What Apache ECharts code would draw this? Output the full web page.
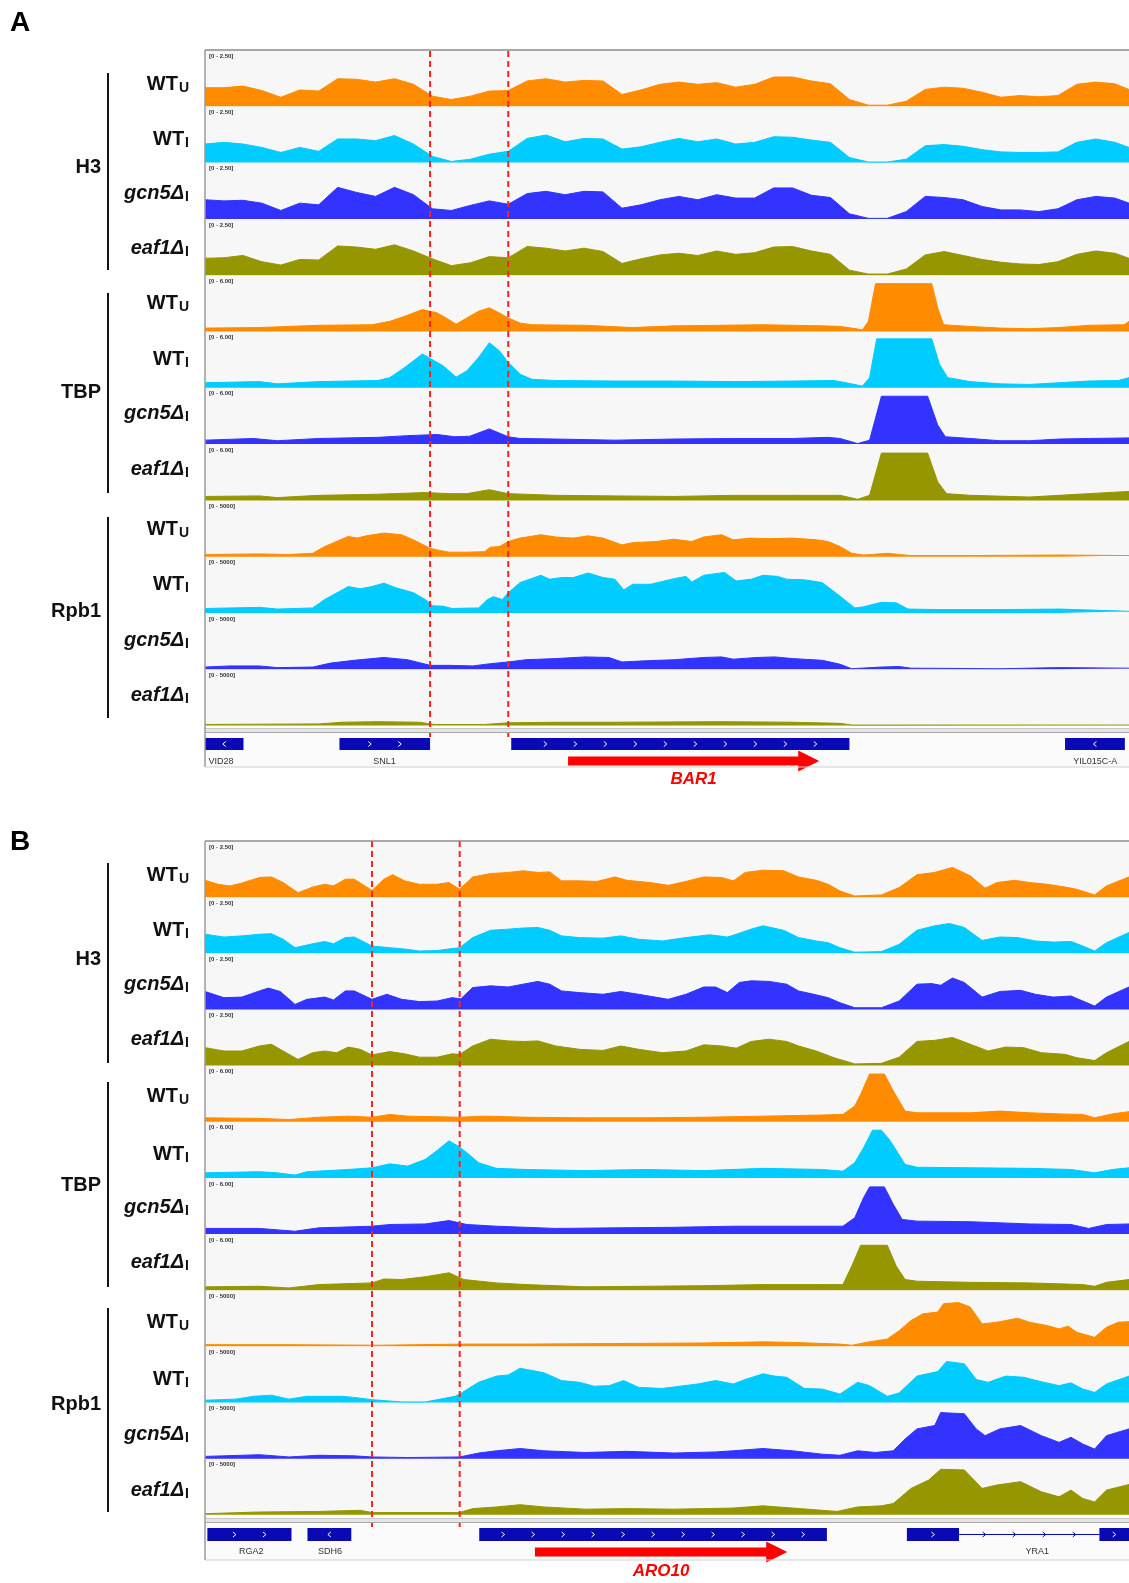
<!DOCTYPE html>
<html><head><meta charset="utf-8">
<script src="https://cdn.jsdelivr.net/npm/echarts@6/dist/echarts.min.js"></script>
<style>html,body{margin:0;padding:0;background:#fff}#c{width:1129px;height:1583px}</style>
</head><body><div id="c"></div>
<script>
// ---------------- DATA (signal as % of each track's display range; x = position along the locus) ----------------
const STRAINS = [
  {main:'WT', sub:'U', italic:false},
  {main:'WT', sub:'I', italic:false},
  {main:'gcn5\u0394', sub:'I', italic:true},
  {main:'eaf1\u0394', sub:'I', italic:true}
];
const GROUPS = ['H3','TBP','Rpb1'];
const RANGE_LABELS = ['[0 - 2.50]','[0 - 6.00]','[0 - 5000]'];
const COLORS = ['#ff8c00','#00ccff','#3333ff','#969600'];

// Panel A (BAR1 locus) – H3 sampled on a regular grid of positions
const A_H3_SAMPLE_X = Array.from({length:50},(_, i) => i < 49 ? 8 + 32*i : 1568);
const A_H3_WTU  = [33,33,36,28,16,29,27,49,48,43,49,39,18,12,18,27,28,45,49,43,46,45,21,29,39,43,39,42,34,39,52,52,45,40,12,2,2,9,30,34,32,25,16,19,17,19,39,43,40,30];
const A_H3_WTI  = [33,36,33,27,18,27,20,42,42,39,48,33,11,2,6,15,20,43,49,37,43,42,24,28,36,43,37,42,33,36,46,45,40,36,9,1,1,6,30,32,29,23,19,18,18,19,36,42,36,27];
const A_H3_GCN5 = [34,32,33,28,15,28,25,56,47,40,56,43,18,15,24,32,26,45,49,43,49,48,19,25,34,40,34,43,37,37,55,55,42,38,9,1,1,13,40,38,34,22,16,16,13,18,34,40,37,28];
const A_H3_EAF1 = [30,31,35,24,18,28,27,52,50,46,54,43,29,17,22,33,31,51,48,43,48,42,21,29,36,39,35,43,37,40,50,51,43,37,9,2,2,11,36,42,35,28,23,20,19,24,37,43,39,30];

const A_TBP_WTU  = [[8,6],[100,7],[200,11],[290,12],[320,18],[345,27],[375,39],[400,33],[420,21],[432,13],[450,24],[470,36],[488,42],[505,33],[520,24],[540,15],[560,12],[650,11],[730,7],[800,10],[950,12],[1050,10],[1080,9],[1100,6],[1118,3],[1128,18],[1140,85],[1235,85],[1245,42],[1255,12],[1300,9],[1350,6],[1400,5],[1450,7],[1500,11],[1560,12],[1568,18]];
const A_TBP_WTI  = [[8,9],[100,11],[130,7],[200,11],[300,13],[320,18],[345,36],[375,60],[395,48],[410,39],[432,19],[450,30],[470,54],[488,80],[505,66],[520,45],[540,24],[560,15],[600,13],[700,12],[800,12],[900,11],[1000,12],[1070,13],[1090,9],[1118,3],[1130,18],[1142,87],[1235,87],[1248,42],[1262,18],[1300,11],[1350,7],[1400,6],[1450,9],[1500,12],[1550,13],[1568,18]];
const A_TBP_GCN5 = [[8,7],[90,10],[130,6],[200,10],[300,12],[350,15],[400,17],[430,13],[455,14],[488,27],[520,13],[540,10],[600,9],[700,7],[800,9],[900,10],[1000,10],[1060,12],[1080,10],[1110,1],[1130,7],[1150,85],[1228,85],[1245,34],[1258,13],[1300,10],[1350,6],[1400,6],[1450,9],[1500,10],[1568,11]];
const A_TBP_EAF1 = [[8,7],[100,8],[130,5],[200,9],[300,11],[380,14],[420,12],[450,12],[488,19],[520,12],[600,9],[700,8],[800,7],[900,9],[1000,9],[1080,9],[1110,2],[1130,9],[1150,84],[1228,84],[1245,33],[1260,12],[1300,9],[1400,6],[1450,9],[1500,12],[1568,16]];

const A_RPB1_WTU  = [[8,4],[100,5],[150,4],[190,6],[210,18],[250,36],[265,33],[280,37],[310,42],[340,39],[360,30],[388,15],[400,12],[420,8],[450,8],[480,9],[490,17],[505,18],[520,27],[540,33],[575,39],[600,35],[630,33],[655,37],[680,33],[712,21],[730,25],[770,27],[800,31],[830,27],[850,35],[880,39],[900,30],[930,33],[960,32],[1000,33],[1040,30],[1060,27],[1080,18],[1100,6],[1120,3],[1160,6],[1180,4],[1200,2],[1300,2],[1450,3],[1568,2]];
const A_RPB1_WTI  = [[8,8],[100,10],[130,7],[190,9],[210,24],[250,47],[270,43],[290,47],[310,53],[330,45],[360,36],[380,24],[392,13],[410,12],[425,8],[470,9],[485,24],[495,29],[510,24],[520,36],[540,54],[575,67],[590,60],[610,63],[630,63],[655,71],[680,63],[700,60],[715,41],[730,51],[760,51],[800,61],[820,65],[830,55],[850,67],[885,72],[905,57],[930,60],[950,67],[975,65],[990,60],[1020,59],[1050,54],[1080,30],[1105,9],[1120,11],[1150,19],[1175,18],[1195,7],[1250,6],[1350,6],[1450,7],[1568,3]];
const A_RPB1_GCN5 = [[8,4],[50,6],[100,6],[130,3],[190,4],[220,11],[260,16],[310,21],[350,17],[388,7],[420,7],[460,6],[490,10],[520,13],[550,17],[600,19],[650,22],[690,21],[712,13],[750,15],[800,17],[850,21],[880,22],[900,18],[940,21],[970,22],[1000,19],[1050,16],[1080,9],[1100,1],[1150,4],[1180,5],[1200,2],[1350,1],[1450,3],[1568,2]];
const A_RPB1_EAF1 = [[8,2],[200,3],[240,6],[300,7],[370,6],[395,2],[480,2],[520,5],[600,6],[700,6],[880,7],[1000,6],[1080,4],[1100,1],[1568,1]];

// Panel B (ARO10 locus)
const B_H3_WTU  = [[8,30],[30,23],[50,20],[70,25],[100,35],[120,36],[140,26],[165,8],[190,18],[210,23],[225,20],[245,32],[260,32],[290,12],[310,32],[325,40],[345,29],[370,23],[400,23],[420,26],[438,14],[460,36],[490,42],[520,44],[545,47],[570,44],[590,45],[610,29],[640,29],[670,28],[700,36],[720,30],[760,26],[790,21],[820,28],[850,36],[880,35],[900,29],[920,44],[950,48],[985,47],[1010,36],[1040,30],[1060,23],[1080,11],[1105,2],[1150,4],[1180,17],[1210,40],[1240,44],[1270,53],[1300,38],[1325,16],[1345,26],[1375,30],[1400,26],[1430,23],[1460,18],[1480,14],[1510,4],[1530,20],[1568,36]];
const B_H3_WTI  = [[8,34],[40,29],[70,31],[100,34],[120,35],[140,25],[160,10],[190,17],[210,21],[225,17],[245,28],[260,29],[290,13],[320,10],[350,7],[370,4],[400,5],[430,9],[438,10],[460,28],[490,41],[520,43],[545,45],[570,46],[590,41],[610,31],[640,28],[680,27],[710,31],[740,25],[780,22],[820,28],[860,33],[890,29],[905,34],[930,43],[950,49],[985,41],[1010,28],[1040,22],[1060,19],[1080,10],[1105,2],[1150,3],[1180,16],[1210,41],[1240,49],[1265,53],[1290,46],[1320,23],[1350,29],[1380,28],[1410,22],[1440,20],[1470,21],[1490,13],[1510,4],[1530,19],[1568,37]];
const B_H3_GCN5 = [[8,32],[40,21],[70,22],[100,33],[115,38],[135,32],[160,9],[180,18],[210,22],[225,17],[245,33],[260,33],[290,18],[315,27],[340,18],[370,14],[400,15],[425,21],[440,19],[460,39],[490,42],[520,40],[545,45],[570,50],[590,45],[610,33],[640,30],[680,27],[710,32],[740,27],[790,18],[820,27],[850,40],[870,40],[890,30],[910,48],[930,51],[960,50],[990,45],[1010,33],[1040,26],[1060,21],[1080,12],[1105,3],[1150,3],[1180,15],[1210,45],[1235,46],[1250,43],[1270,56],[1290,48],[1320,22],[1350,32],[1385,34],[1410,27],[1440,22],[1470,24],[1490,15],[1510,6],[1530,22],[1568,40]];
const B_H3_EAF1 = [[8,32],[40,26],[70,26],[100,35],[120,38],[140,26],[165,11],[190,23],[210,26],[230,23],[250,33],[270,29],[290,19],[320,25],[345,21],[370,15],[400,15],[425,21],[438,20],[460,35],[490,47],[520,44],[545,43],[570,44],[600,35],[640,29],[680,27],[710,35],[740,29],[780,23],[820,26],[850,37],[880,35],[905,31],[930,43],[960,47],[990,43],[1010,35],[1040,26],[1070,14],[1105,3],[1150,4],[1180,15],[1210,43],[1240,45],[1270,50],[1300,38],[1330,26],[1360,33],[1390,32],[1420,23],[1460,20],[1480,14],[1510,9],[1530,23],[1568,43]];

const B_TBP_WTU  = [[8,7],[100,6],[150,4],[200,8],[250,10],[290,8],[320,13],[350,10],[400,9],[438,8],[480,10],[550,8],[650,7],[750,7],[850,8],[950,10],[1050,12],[1085,13],[1105,28],[1115,49],[1130,85],[1155,85],[1170,55],[1190,19],[1210,16],[1300,16],[1350,19],[1400,16],[1450,14],[1490,13],[1510,7],[1540,14],[1568,18]];
const B_TBP_WTI  = [[8,9],[100,11],[130,9],[160,5],[180,11],[250,15],[290,18],[320,25],[350,21],[380,33],[400,49],[420,66],[435,57],[450,45],[470,27],[500,17],[550,15],[650,13],[750,15],[850,13],[950,17],[1050,15],[1085,12],[1105,27],[1120,54],[1135,85],[1150,85],[1165,66],[1190,24],[1210,19],[1300,18],[1400,17],[1470,15],[1510,9],[1540,15],[1568,18]];
const B_TBP_GCN5 = [[8,10],[100,10],[160,5],[200,11],[290,14],[320,17],[380,18],[420,24],[450,17],[500,14],[600,10],[700,11],[800,12],[900,14],[1000,14],[1085,14],[1105,29],[1120,65],[1130,84],[1155,84],[1170,53],[1185,26],[1210,23],[1300,22],[1400,18],[1470,17],[1500,10],[1530,17],[1568,18]];
const B_TBP_EAF1 = [[8,6],[100,7],[150,4],[200,10],[290,13],[310,20],[340,19],[380,24],[420,31],[445,19],[500,13],[550,10],[650,6],[750,7],[850,8],[950,10],[1050,10],[1085,10],[1100,43],[1115,80],[1160,80],[1175,43],[1190,19],[1210,16],[1300,14],[1400,13],[1490,10],[1510,7],[1530,14],[1568,19]];

const B_RPB1_WTU  = [[8,3],[150,3],[300,2],[440,4],[550,4],[700,5],[850,6],[950,8],[1000,7],[1080,4],[1100,2],[1130,8],[1160,13],[1180,28],[1200,46],[1220,58],[1245,61],[1255,76],[1280,78],[1300,70],[1320,40],[1345,43],[1380,50],[1400,43],[1430,37],[1450,31],[1465,36],[1480,25],[1510,16],[1530,34],[1550,43],[1568,44]];
const B_RPB1_WTI  = [[8,4],[60,6],[90,11],[120,13],[150,6],[180,11],[240,11],[260,9],[290,5],[340,1],[380,1],[410,7],[430,11],[438,15],[470,36],[500,47],[520,49],[540,61],[560,57],[580,53],[610,39],[640,36],[665,29],[690,30],[715,39],[740,27],[780,25],[810,29],[840,33],[870,39],[900,33],[920,41],[950,51],[970,47],[990,45],[1020,25],[1050,24],[1080,15],[1110,36],[1130,30],[1160,11],[1180,17],[1210,47],[1245,55],[1260,73],[1290,69],[1310,41],[1330,36],[1360,47],[1390,45],[1420,37],[1450,30],[1470,35],[1490,24],[1510,18],[1530,33],[1568,47]];
const B_RPB1_GCN5 = [[8,4],[100,7],[150,3],[200,6],[260,5],[290,3],[350,2],[438,3],[470,10],[500,14],[540,18],[580,14],[650,11],[720,13],[800,10],[870,12],[900,14],[950,18],[1000,14],[1050,8],[1080,6],[1110,14],[1140,11],[1170,14],[1190,35],[1210,53],[1240,59],[1250,82],[1290,80],[1310,53],[1325,41],[1350,53],[1385,59],[1420,41],[1450,29],[1470,38],[1490,26],[1510,17],[1530,41],[1568,53]];
const B_RPB1_EAF1 = [[8,2],[100,5],[200,6],[270,8],[290,4],[438,4],[460,11],[500,14],[540,18],[580,14],[650,10],[720,11],[800,10],[850,11],[900,12],[950,16],[1000,12],[1075,6],[1110,14],[1150,16],[1170,20],[1200,47],[1230,62],[1250,81],[1290,80],[1320,47],[1345,53],[1385,59],[1420,41],[1450,32],[1470,44],[1490,29],[1510,23],[1530,44],[1568,54]];

// Gene annotations (positions in same locus units)
const GENES_A = [
  {name:'VID28', exons:[[8,73]], strand:-1, labelAt:35},
  {name:'SNL1', exons:[[235,388]], strand:1, labelAt:311},
  {name:'', exons:[[525,1096]], strand:1, labelAt:810},
  {name:'YIL015C-A', exons:[[1460,1561]], strand:-1, labelAt:1511}
];
const GENES_B = [
  {name:'RGA2', exons:[[12,154]], strand:1, labelAt:86},
  {name:'SDH6', exons:[[181,255]], strand:-1, labelAt:219},
  {name:'', exons:[[471,1058]], strand:1, labelAt:765},
  {name:'YRA1', exons:[[1193,1281],[1518,1575]], strand:1, labelAt:1413}
];
const ARROW_A = [621, 1045], ARROW_LABEL_A = 'BAR1';
const ARROW_B = [565, 991],  ARROW_LABEL_B = 'ARO10';
const DASH_A = [388, 520];
const DASH_B = [290, 438];

// ---------------- LAYOUT ----------------
const toPairs = (xs, ys) => ys.map((v, i) => [xs[i], v]);
const PANELS = [
  {letter:'A', letterY:23, top:50, step:56.3, dashEnd:737, dashes:DASH_A,
   tracks:[toPairs(A_H3_SAMPLE_X,A_H3_WTU),toPairs(A_H3_SAMPLE_X,A_H3_WTI),toPairs(A_H3_SAMPLE_X,A_H3_GCN5),toPairs(A_H3_SAMPLE_X,A_H3_EAF1),
           A_TBP_WTU,A_TBP_WTI,A_TBP_GCN5,A_TBP_EAF1,A_RPB1_WTU,A_RPB1_WTI,A_RPB1_GCN5,A_RPB1_EAF1],
   labelY:[84.5,139,193.5,248,303.5,359,413.5,469,529.5,584,640.5,695],
   groupY:[167,392,611], brackets:[[73,270],[293,493],[517,718]],
   sepY:728, geneTop:733, geneBottom:767, boxOff:5, boxH:12, gLabelOff:29, arrowOff:28, arrowLabelY:779,
   genes:GENES_A, arrow:ARROW_A, arrowLabel:ARROW_LABEL_A},
  {letter:'B', letterY:842, top:841, step:56.15, dashEnd:1527, dashes:DASH_B,
   tracks:[B_H3_WTU,B_H3_WTI,B_H3_GCN5,B_H3_EAF1,B_TBP_WTU,B_TBP_WTI,B_TBP_GCN5,B_TBP_EAF1,B_RPB1_WTU,B_RPB1_WTI,B_RPB1_GCN5,B_RPB1_EAF1],
   labelY:[875.5,930,984.5,1039,1096.5,1154,1207.5,1262,1322,1379,1434,1490.5],
   groupY:[959,1185,1404], brackets:[[863,1063],[1082,1287],[1308,1512]],
   sepY:1518, geneTop:1523, geneBottom:1560, boxOff:5, boxH:13, gLabelOff:29, arrowOff:29, arrowLabelY:1571,
   genes:GENES_B, arrow:ARROW_B, arrowLabel:ARROW_LABEL_B}
];
const LEFT = 205, XMIN = 8, XMAX = 1568;
const FONT = "'Liberation Sans', Arial, sans-serif";
const GENE_COLOR = '#0a0ab4';

const grids = [], xAxes = [], yAxes = [], series = [], graphics = [];
function addGrid(g, ymax) {
  const i = grids.length;
  grids.push(g);
  xAxes.push({type:'value', gridIndex:i, min:XMIN, max:XMAX, show:false});
  yAxes.push({type:'value', gridIndex:i, min:0, max:ymax, show:false});
  return i;
}
const ctx = document.createElement('canvas').getContext('2d');
function textW(font, t) { ctx.font = font; return ctx.measureText(t).width; }

function chevron(x, yc, dir, color) {
  const d = dir > 0 ? 1 : -1;
  return {type:'polyline', shape:{points:[[x - 1.5*d, yc - 2.5],[x + 1.5*d, yc],[x - 1.5*d, yc + 2.5]]},
          style:{stroke:color, lineWidth:1, fill:null}};
}
function chevronXs(xa, xb) {
  const w = xb - xa;
  const n = Math.max(1, Math.round(w / 30) - 1);
  const start = xa + (w - (n - 1) * 30) / 2;
  return Array.from({length:n}, (_, i) => start + 30 * i);
}

PANELS.forEach(P => {
  // tracks
  P.tracks.forEach((data, k) => {
    const gi = addGrid({left:LEFT, right:0, top:P.top + P.step * k, height:P.step, show:true,
                        backgroundColor:'#f7f7f7', borderWidth:0}, 100);
    const color = COLORS[k % 4];
    series.push({type:'line', xAxisIndex:gi, yAxisIndex:gi, data, symbol:'none', silent:true, z:2,
                 lineStyle:{width:1, color}, areaStyle:{color, opacity:1}});
    // range label
    graphics.push({type:'text', x:LEFT + 4, y:P.top + P.step * k + 3, z:20,
      style:{text:RANGE_LABELS[Math.floor(k / 4)], fontSize:6, fontWeight:'bold', fontFamily:FONT, fill:'#333', align:'left', verticalAlign:'top'}});
    // left label
    const s = STRAINS[k % 4];
    const mainFont = (s.italic ? 'italic ' : '') + 'bold 20px ' + FONT;
    const subFont = 'bold 14px ' + FONT;
    const right = 189;
    const sw = textW(subFont, s.sub);
    const y = P.labelY[k];
    graphics.push({type:'text', x:right - sw - 1, y, z:20,
      style:{text:s.main, font:mainFont, fill:'#111', align:'right', verticalAlign:'middle'}});
    graphics.push({type:'text', x:right - sw, y:y + 4, z:20,
      style:{text:s.sub, font:subFont, fill:'#111', align:'left', verticalAlign:'middle'}});
  });
  // group labels & brackets
  GROUPS.forEach((g, j) => {
    graphics.push({type:'text', x:101, y:P.groupY[j], z:20,
      style:{text:g, font:'bold 20px ' + FONT, fill:'#111', align:'right', verticalAlign:'middle'}});
    graphics.push({type:'line', z:20, shape:{x1:108, y1:P.brackets[j][0], x2:108, y2:P.brackets[j][1]},
      style:{stroke:'#111', lineWidth:2}});
  });
  // panel letter
  graphics.push({type:'text', x:10, y:P.letterY, z:20,
    style:{text:P.letter, font:'bold 28px ' + FONT, fill:'#000', align:'left', verticalAlign:'middle'}});
  // separator band and frame
  graphics.push({type:'rect', z:15, shape:{x:LEFT, y:P.sepY, width:1129 - LEFT, height:P.geneTop - P.sepY},
    style:{fill:'#e4e4e4', stroke:null}});
  graphics.push({type:'line', z:16, shape:{x1:LEFT, y1:P.geneTop - 0.5, x2:1129, y2:P.geneTop - 0.5}, style:{stroke:'#a8a8a8', lineWidth:1}});
  graphics.push({type:'line', z:16, shape:{x1:LEFT, y1:P.sepY + 0.5, x2:1129, y2:P.sepY + 0.5}, style:{stroke:'#c8c8c8', lineWidth:1}});
  graphics.push({type:'line', z:16, shape:{x1:LEFT, y1:P.top, x2:1129, y2:P.top}, style:{stroke:'#8c8c8c', lineWidth:1.5}});
  graphics.push({type:'line', z:16, shape:{x1:LEFT, y1:P.top, x2:LEFT, y2:P.geneBottom}, style:{stroke:'#9a9a9a', lineWidth:1.5}});
  graphics.push({type:'line', z:16, shape:{x1:LEFT, y1:P.geneBottom, x2:1129, y2:P.geneBottom}, style:{stroke:'#cfcfcf', lineWidth:1}});

  // gene track
  const gg = addGrid({left:LEFT, right:0, top:P.geneTop, height:P.geneBottom - P.geneTop, show:true,
                      backgroundColor:'#fbfbfb', borderWidth:0}, 1);
  series.push({type:'custom', xAxisIndex:gg, yAxisIndex:gg, silent:true, z:5, clip:false,
    data:P.genes.map(g => [g.exons[0][0], 0.5]),
    renderItem:(params, api) => {
      const g = P.genes[params.dataIndex];
      const cs = params.coordSys;
      const yb = cs.y + P.boxOff, yc = yb + P.boxH / 2;
      const ch = [];
      for (let i = 0; i < g.exons.length - 1; i++) {
        const xa = api.coord([g.exons[i][1], 0])[0], xb = api.coord([g.exons[i + 1][0], 0])[0];
        ch.push({type:'line', shape:{x1:xa, y1:yc, x2:xb, y2:yc}, style:{stroke:GENE_COLOR, lineWidth:1}});
        chevronXs(xa, xb).forEach(x => ch.push(chevron(x, yc, g.strand, GENE_COLOR)));
      }
      g.exons.forEach(([s, e]) => {
        const xa = api.coord([s, 0])[0], xb = Math.min(api.coord([e, 0])[0], 1129);
        ch.push({type:'rect', shape:{x:xa, y:yb, width:xb - xa, height:P.boxH}, style:{fill:GENE_COLOR}});
        chevronXs(xa, xb).forEach(x => ch.push(chevron(x, yc, g.strand, '#ffffff')));
      });
      if (g.name) ch.push({type:'text', x:api.coord([g.labelAt, 0])[0], y:cs.y + P.gLabelOff,
        style:{text:g.name, fontSize:9, fontFamily:FONT, fill:'#333', align:'center', verticalAlign:'middle'}});
      return {type:'group', children:ch};
    }});
  // red arrow with gene name
  series.push({type:'custom', xAxisIndex:gg, yAxisIndex:gg, silent:true, z:8, clip:false,
    data:[[P.arrow[0], P.arrow[1]]],
    renderItem:(params, api) => {
      const cs = params.coordSys;
      const x0 = api.coord([api.value(0), 0])[0], x1 = api.coord([api.value(1), 0])[0];
      const yc = cs.y + P.arrowOff, hl = 21, hh = 10.5, sh = 4.5;
      return {type:'group', children:[
        {type:'polygon', shape:{points:[[x0, yc - sh],[x1 - hl, yc - sh],[x1 - hl, yc - hh],[x1, yc],[x1 - hl, yc + hh],[x1 - hl, yc + sh],[x0, yc + sh]]},
         style:{fill:'#ff0000'}},
        {type:'text', x:(x0 + x1) / 2, y:P.arrowLabelY,
         style:{text:P.arrowLabel, font:'italic bold 17px ' + FONT, fill:'#ff0000', align:'center', verticalAlign:'middle'}}
      ]};
    }});

  // dashed guide lines
  const og = addGrid({left:LEFT, right:0, top:P.top, height:P.dashEnd - P.top, show:false}, 1);
  P.dashes.forEach(x => series.push({type:'line', xAxisIndex:og, yAxisIndex:og, data:[[x, 0],[x, 1]], symbol:'none',
    silent:true, z:12, lineStyle:{color:'#ff2020', width:2, type:[6, 4]}}));
});

const chart = echarts.init(document.getElementById('c'), null, {renderer:'canvas', width:1129, height:1583});
chart.setOption({animation:false, backgroundColor:'#ffffff', grid:grids, xAxis:xAxes, yAxis:yAxes, series, graphic:{elements:graphics}});
</script></body></html>
